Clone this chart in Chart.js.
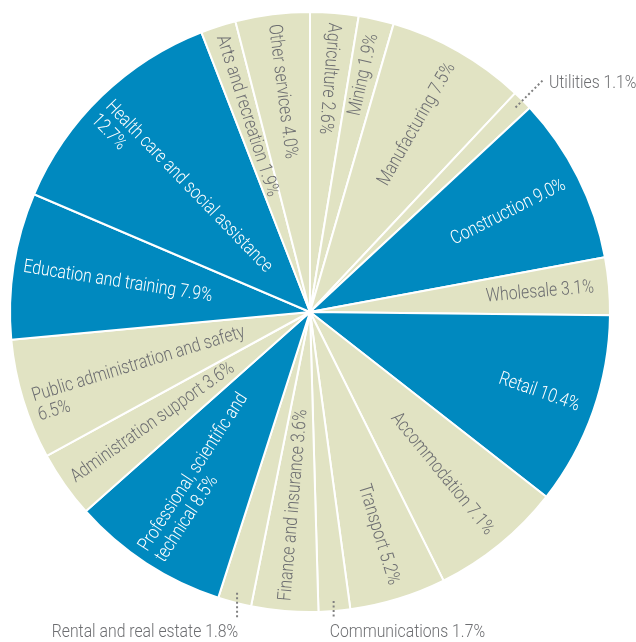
<!DOCTYPE html>
<html>
<head>
<meta charset="utf-8">
<script src="https://cdn.jsdelivr.net/npm/chart.js@4"></script>
<style>
  html, body { margin: 0; padding: 0; background: #fff; }
  #industryChart { display: block; }
</style>
</head>
<body>
<canvas id="industryChart" width="636" height="642"></canvas>
<script>
// Employment share by industry, clockwise from 12 o'clock.
// A trailing "\n" in a name puts the value on its own line.
const sectors = [
  'Agriculture', 'Mining', 'Manufacturing', 'Utilities', 'Construction',
  'Wholesale', 'Retail', 'Accommodation', 'Transport', 'Communications',
  'Finance and insurance', 'Rental and real estate',
  'Professional, scientific and\ntechnical', 'Administration support',
  'Public administration and safety\n', 'Education and training',
  'Health care and social assistance\n', 'Arts and recreation', 'Other services'
];
const shares = [2.6, 1.9, 7.5, 1.1, 9.0, 3.1, 10.4, 7.1, 5.2, 1.7, 3.6, 1.8, 8.5, 3.6, 6.5, 7.9, 12.7, 1.9, 4.0];

// sectors drawn in the darker colour
const highlighted = ['Construction', 'Retail', 'Professional, scientific and\ntechnical',
  'Education and training', 'Health care and social assistance\n'];

// slices smaller than this get a dotted callout instead of an inside label
const calloutBelow = 1.85;

const BLUE = '#0089bf';
const SAND = '#e1e3c3';
const GREY = '#6d6e71';
const FONT = '300 19px Roboto, "Liberation Sans", sans-serif';
const SQUEEZE = 0.83; // no condensed face installed, so narrow the glyphs by hand
const LINE_H = 20;

const labelText = i => {
  const name = sectors[i];
  const sep = name.endsWith('\n') ? '' : ' ';
  return name + sep + shares[i].toFixed(1) + '%';
};

// fillText with the glyphs squeezed horizontally around the anchor point
const narrowText = (ctx, text, x, y) => {
  ctx.save();
  ctx.translate(x, y);
  ctx.scale(SQUEEZE, 1);
  ctx.fillText(text, 0, 0);
  ctx.restore();
};

const sliceLabels = {
  id: 'sliceLabels',
  afterDatasetsDraw(chart) {
    const ctx = chart.ctx;
    const arcs = chart.getDatasetMeta(0).data;
    ctx.save();
    ctx.font = FONT;
    ctx.textBaseline = 'middle';

    arcs.forEach((arc, i) => {
      const { x, y, startAngle, endAngle, outerRadius } =
        arc.getProps(['x', 'y', 'startAngle', 'endAngle', 'outerRadius'], true);
      const mid = (startAngle + endAngle) / 2;
      const text = labelText(i);

      if (shares[i] < calloutBelow) {
        const px = x + Math.cos(mid) * (outerRadius - 10);
        const py = y + Math.sin(mid) * (outerRadius - 10);
        ctx.strokeStyle = '#808080';
        ctx.lineWidth = 2;
        ctx.setLineDash([2, 2.5]);
        ctx.fillStyle = GREY;
        ctx.beginPath();
        if (Math.sin(mid) > 0.7) {
          // bottom of the pie: drop straight down, text underneath
          const by = y + outerRadius + 6;
          ctx.moveTo(px, py);
          ctx.lineTo(px, by);
          ctx.stroke();
          const left = px < x;
          ctx.textAlign = left ? 'right' : 'left';
          narrowText(ctx, text, left ? px + 1 : px - 4, by + 14);
        } else {
          const ex = x + Math.cos(mid) * (outerRadius + 30);
          const ey = y + Math.sin(mid) * (outerRadius + 30);
          ctx.moveTo(px, py);
          ctx.lineTo(ex, ey);
          ctx.stroke();
          ctx.textAlign = 'left';
          narrowText(ctx, text, ex + 5, ey + 4);
        }
        return;
      }

      // inside labels run along the radius; keep them readable
      const fromTop = (mid + Math.PI / 2) * 180 / Math.PI;
      const outward = fromTop > 10 && fromTop < 180;
      const lines = text.split('\n');
      // a value on its own line hangs under the name; wrapped names are centred
      const valueOnly = sectors[i].endsWith('\n');
      const firstY = valueOnly ? 0 : -(lines.length - 1) / 2 * LINE_H;
      ctx.save();
      ctx.translate(x, y);
      ctx.rotate(outward ? mid : mid + Math.PI);
      ctx.textAlign = outward ? 'right' : 'left';
      ctx.fillStyle = highlighted.includes(sectors[i]) ? '#ffffff' : GREY;
      const tx = outward ? outerRadius - 15 : -(outerRadius - 10);
      lines.forEach((line, k) => {
        narrowText(ctx, line, tx, firstY + k * LINE_H);
      });
      ctx.restore();
    });
    ctx.restore();
  }
};

const ctx = document.getElementById('industryChart').getContext('2d');
const industryChart = new Chart(ctx, {
  type: 'pie',
  data: {
    labels: sectors,
    datasets: [{
      data: shares,
      backgroundColor: sectors.map(s => highlighted.includes(s) ? BLUE : SAND),
      borderColor: '#ffffff',
      borderWidth: 2,
      hoverOffset: 0
    }]
  },
  options: {
    responsive: false,
    animation: false,
    events: [],
    layout: { padding: { left: 9, top: 11, right: 25, bottom: 29 } },
    plugins: {
      legend: { display: false },
      tooltip: { enabled: false }
    }
  },
  plugins: [sliceLabels]
});
</script>
</body>
</html>
